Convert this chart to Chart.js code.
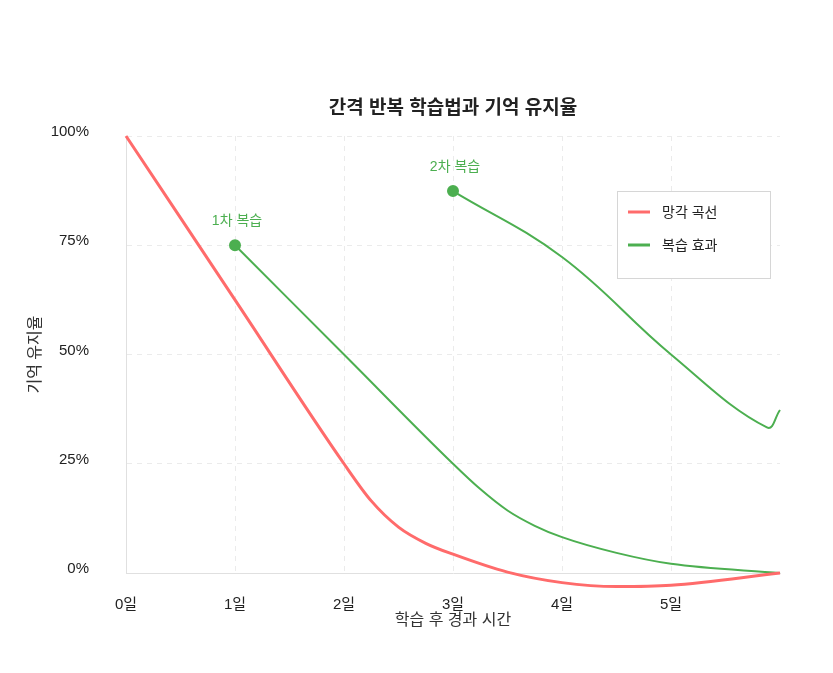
<!DOCTYPE html>
<html lang="ko">
<head>
<meta charset="UTF-8">
<title>간격 반복 학습법과 기억 유지율</title>
<script src="https://cdn.jsdelivr.net/npm/chart.js"></script>
<style>
  body { margin: 0; background: #fff; }
  .wrap { position: relative; width: 833px; height: 673px; }
</style>
</head>
<body>
<div class="wrap"><canvas id="retentionChart" width="833" height="673"></canvas></div>
<script>
// chart data
const chartTitle = '간격 반복 학습법과 기억 유지율';
const dayTicks = [0, 1, 2, 3, 4, 5];
const percentTicks = [0, 25, 50, 75, 100];

const forgetDays = [0, 1, 2, 2.25, 2.5, 2.75, 3, 3.5, 4, 4.5, 5, 6];
const forgetValues = [100, 62.5, 25, 16.5, 10.5, 6.8, 4.3, 0.2, -2.2, -3.1, -2.8, 0];

const review1Days = [1, 2, 3, 3.25, 3.5, 3.75, 4, 4.5, 5, 6];
const review1Values = [75, 50, 25, 19.2, 14.3, 10.8, 8.2, 4.6, 2.1, 0];

const review2Days = [3, 4, 5, 5.88, 6];
const review2Values = [87.4, 72.3, 50, 33.3, 37.3];

const reviewLabels = ['1차 복습', '2차 복습'];

const RED = '#ff6b6b';
const GREEN = '#4caf50';
const FONT = "'Liberation Sans', 'Noto Sans CJK KR', sans-serif";

function toPoints(xs, ys) {
    return xs.map((x, i) => ({ x: x, y: ys[i] }));
}

Chart.defaults.font.family = FONT;

// title, review notes and boxed legend
const overlayPlugin = {
    id: 'overlay',
    afterDraw(chart) {
        const ctx = chart.ctx;
        const area = chart.chartArea;
        ctx.save();

        ctx.fillStyle = '#222';
        ctx.font = 'bold 19px ' + FONT;
        ctx.textAlign = 'center';
        ctx.textBaseline = 'middle';
        ctx.fillText(chartTitle, (area.left + area.right) / 2, area.top - 27);

        ctx.font = '14px ' + FONT;
        ctx.fillStyle = GREEN;
        [1, 2].forEach((di, k) => {
            const pt = chart.getDatasetMeta(di).data[0];
            ctx.fillText(reviewLabels[k], pt.x + 2, pt.y - 24);
        });

        // legend box
        const seen = [];
        chart.data.datasets.forEach(ds => {
            if (!seen.find(s => s.label === ds.label)) seen.push(ds);
        });
        const bx = area.right - 163, by = area.top + 55, bw = 153, bh = 87;
        ctx.fillStyle = '#fff';
        ctx.fillRect(bx, by, bw, bh);
        ctx.strokeStyle = '#d6d6d6';
        ctx.lineWidth = 1;
        ctx.strokeRect(bx + 0.5, by + 0.5, bw, bh);
        ctx.textAlign = 'left';
        seen.forEach((ds, i) => {
            const y = by + 21 + i * 33;
            ctx.strokeStyle = ds.borderColor;
            ctx.lineWidth = 3;
            ctx.beginPath();
            ctx.moveTo(bx + 11, y);
            ctx.lineTo(bx + 33, y);
            ctx.stroke();
            ctx.fillStyle = '#222';
            ctx.fillText(ds.label, bx + 45, y + 1);
        });
        ctx.restore();
    }
};

new Chart(document.getElementById('retentionChart'), {
    type: 'line',
    data: {
        datasets: [
            {
                label: '망각 곡선',
                data: toPoints(forgetDays, forgetValues),
                borderColor: RED,
                backgroundColor: RED,
                borderWidth: 3,
                cubicInterpolationMode: 'monotone',
                pointRadius: 0,
                clip: false
            },
            {
                label: '복습 효과',
                data: toPoints(review1Days, review1Values),
                borderColor: GREEN,
                backgroundColor: GREEN,
                borderWidth: 2,
                cubicInterpolationMode: 'monotone',
                pointRadius: c => c.dataIndex === 0 ? 5 : 0,
                clip: false
            },
            {
                label: '복습 효과',
                data: toPoints(review2Days, review2Values),
                borderColor: GREEN,
                backgroundColor: GREEN,
                borderWidth: 2,
                tension: 0.4,
                pointRadius: c => c.dataIndex === 0 ? 5 : 0,
                clip: false
            }
        ]
    },
    options: {
        responsive: false,
        animation: false,
        layout: { padding: { top: 136, left: 26, right: 53, bottom: 43 } },
        plugins: {
            legend: { display: false },
            tooltip: { enabled: false }
        },
        scales: {
            x: {
                type: 'linear',
                min: 0,
                max: 6,
                afterBuildTicks: s => { s.ticks = dayTicks.map(v => ({ value: v })); },
                afterFit: s => { s.height = 57; },
                ticks: {
                    callback: v => v + '일',
                    padding: 23,
                    color: '#222',
                    font: { size: 15 }
                },
                grid: { color: '#ebebeb', drawTicks: false },
                border: { color: '#e0e0e0', dash: [5, 5] },
                title: {
                    display: true,
                    text: '학습 후 경과 시간',
                    color: '#333',
                    font: { size: 16 },
                    padding: { top: 0, bottom: 0 }
                }
            },
            y: {
                min: 0,
                max: 100,
                afterBuildTicks: s => { s.ticks = percentTicks.map(v => ({ value: v })); },
                afterFit: s => { s.width = 100; },
                ticks: {
                    callback: v => v + '%',
                    padding: 37,
                    labelOffset: -4,
                    color: '#222',
                    font: { size: 15 }
                },
                grid: { color: '#ebebeb', drawTicks: false },
                border: { color: '#e0e0e0', dash: [5, 5] },
                title: {
                    display: true,
                    text: '기억 유지율',
                    color: '#333',
                    font: { size: 16 },
                    padding: { top: 0, bottom: 0 }
                }
            }
        }
    },
    plugins: [overlayPlugin]
});
</script>
</body>
</html>
